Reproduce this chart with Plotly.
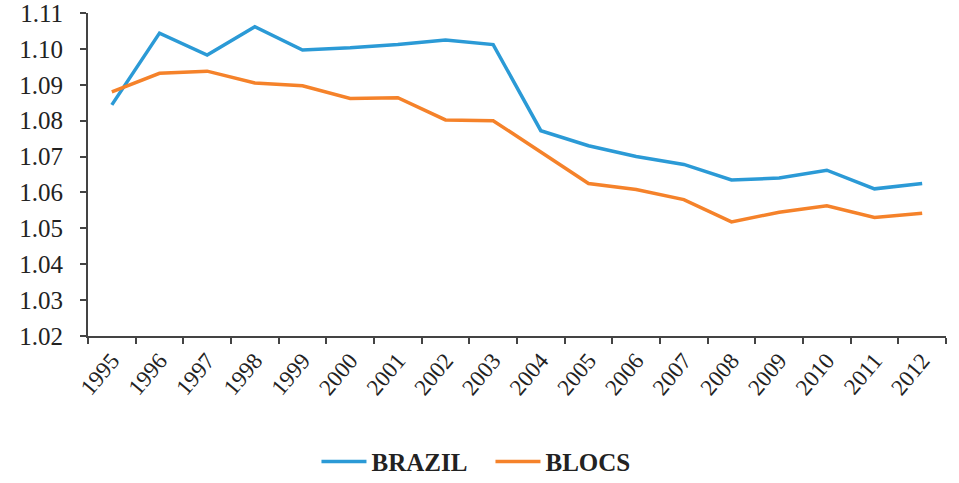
import plotly.graph_objects as go

years = [str(y) for y in range(1995, 2013)]
brazil = [1.0844, 1.1044, 1.0983, 1.1062, 1.0997, 1.1003, 1.1012, 1.1025, 1.1012, 1.0772,
          1.0730, 1.0700, 1.0678, 1.0635, 1.0640, 1.0662, 1.0610, 1.0625]
blocs = [1.0880, 1.0932, 1.0938, 1.0905, 1.0897, 1.0862, 1.0864, 1.0802, 1.0800, 1.0712,
         1.0625, 1.0608, 1.0580, 1.0518, 1.0545, 1.0563, 1.0530, 1.0542]
yticks = [1.02, 1.03, 1.04, 1.05, 1.06, 1.07, 1.08, 1.09, 1.10, 1.11]

font = "Liberation Serif, Times New Roman, serif"

fig = go.Figure()
fig.add_trace(go.Scatter(x=years, y=brazil, mode="lines", name="BRAZIL",
                         line=dict(color="#2B9AD6", width=3.5)))
fig.add_trace(go.Scatter(x=years, y=blocs, mode="lines", name="BLOCS",
                         line=dict(color="#F5822A", width=3.5)))

fig.update_layout(
    width=959, height=483,
    margin=dict(l=88, r=13, t=13, b=147),
    plot_bgcolor="white", paper_bgcolor="white",
    font=dict(family=font, color="#222222"),
    showlegend=True,
    legend=dict(orientation="h", xref="container", yref="container",
                x=0.33, xanchor="left", y=0.044, yanchor="middle",
                entrywidth=114, itemwidth=45,
                font=dict(family=font, size=25, color="#222222", weight="bold")),
)
fig.update_xaxes(type="category", range=[-0.5, 17.5], tickson="boundaries",
                 ticks="outside", ticklen=6, tickwidth=2, tickcolor="#444",
                 showline=True, linecolor="#444", linewidth=2, showgrid=False,
                 automargin=False,
                 tickangle=-50, tickfont=dict(family=font, size=23, color="#222"))
fig.update_yaxes(range=[1.0199999, 1.1100001], tickvals=yticks, tickformat=".2f",
                 ticks="outside", ticklen=6, tickwidth=2, tickcolor="#444",
                 showline=True, linecolor="#444", linewidth=2, showgrid=False,
                 ticklabelstandoff=12, automargin=False, ticklabeloverflow="allow",
                 zeroline=False, tickfont=dict(family=font, size=25, color="#222"))

fig.write_html("out.html")
